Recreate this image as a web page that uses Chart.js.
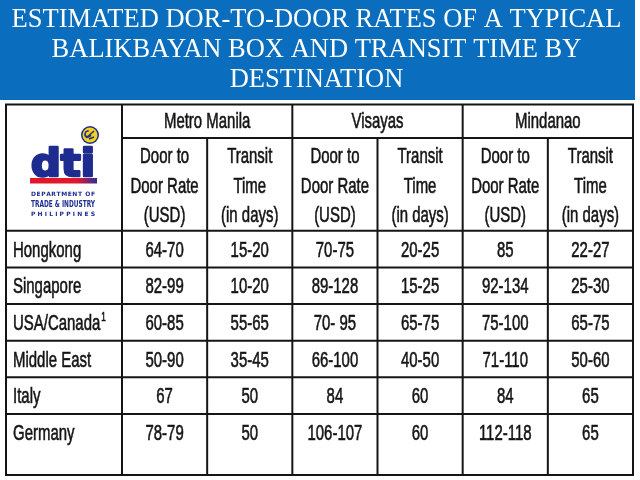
<!DOCTYPE html>
<html>
<head>
<meta charset="utf-8">
<title>Balikbayan box rates</title>
<script src="https://cdn.jsdelivr.net/npm/chart.js@4.4.1/dist/chart.umd.min.js"></script>
<style>
  html, body { margin: 0; padding: 0; background: #fff; }
  #wrap { width: 640px; height: 480px; }
</style>
</head>
<body>
<div id="wrap"><canvas id="rateTable"></canvas></div>
<script>
var titleLines = ['ESTIMATED DOR-TO-DOOR RATES OF A TYPICAL', 'BALIKBAYAN BOX AND TRANSIT TIME BY', 'DESTINATION'];
var regions = ['Metro Manila', 'Visayas', 'Mindanao'];
var columnHeads = [
  ['Door to', 'Door Rate', '(USD)'],
  ['Transit', 'Time', '(in days)'],
  ['Door to', 'Door Rate', '(USD)'],
  ['Transit', 'Time', '(in days)'],
  ['Door to', 'Door Rate', '(USD)'],
  ['Transit', 'Time', '(in days)']
];
var destinations = ['Hongkong', 'Singapore', 'USA/Canada', 'Middle East', 'Italy', 'Germany'];
var footnotes = ['', '', '1', '', '', ''];
var metroManilaRate = ['64-70', '82-99', '60-85', '50-90', '67', '78-79'];
var metroManilaDays = ['15-20', '10-20', '55-65', '35-45', '50', '50'];
var visayasRate = ['70-75', '89-128', '70- 95', '66-100', '84', '106-107'];
var visayasDays = ['20-25', '15-25', '65-75', '40-50', '60', '60'];
var mindanaoRate = ['85', '92-134', '75-100', '71-110', '84', '112-118'];
var mindanaoDays = ['22-27', '25-30', '65-75', '50-60', '65', '65'];
var tableColumns = [metroManilaRate, metroManilaDays, visayasRate, visayasDays, mindanaoRate, mindanaoDays];

// look of the table
var ink = '#151515';
var navy = '#1e2b8f';
var banner = '#0a6dbd';
var cellFont = '"Liberation Sans", Arial, sans-serif';
var cellSize = 22;
var squeeze = 0.68;
var tableTop = 104.5, groupBottom = 138, tableBottom = 475, tableLeft = 6;
var groupBaseline = 128;
var headBaselines = [163, 193, 222];

function squeezedText(ctx, text, x, y, size, align) {
  ctx.save();
  ctx.font = size + 'px ' + cellFont;
  ctx.textAlign = align;
  ctx.textBaseline = 'alphabetic';
  ctx.lineWidth = 0.6;
  ctx.strokeStyle = ctx.fillStyle;
  ctx.translate(x, y);
  ctx.scale(squeeze, 1);
  ctx.fillText(text, 0, 0);
  ctx.strokeText(text, 0, 0);
  var w = ctx.measureText(text).width * squeeze;
  ctx.restore();
  return w;
}

function line(ctx, x1, y1, x2, y2) {
  ctx.beginPath();
  ctx.moveTo(x1, y1);
  ctx.lineTo(x2, y2);
  ctx.stroke();
}

function spread(ctx, text, x0, x1, y) {
  var chars = text.split('');
  var widths = chars.map(function (ch) { return ctx.measureText(ch).width; });
  var total = widths.reduce(function (a, b) { return a + b; }, 0);
  var gap = (x1 - x0 - total) / (chars.length - 1);
  var x = x0;
  chars.forEach(function (ch, i) {
    ctx.fillText(ch, x, y);
    x += widths[i] + gap;
  });
}

function drawLogo(ctx) {
  ctx.save();
  // seal
  ctx.fillStyle = navy;
  ctx.beginPath(); ctx.arc(90, 135, 9, 0, Math.PI * 2); ctx.fill();
  ctx.fillStyle = '#f4d21c';
  ctx.beginPath(); ctx.arc(90, 135, 7.5, 0, Math.PI * 2); ctx.fill();
  ctx.strokeStyle = navy; ctx.lineWidth = 1.5;
  ctx.beginPath(); ctx.arc(88, 134, 3, 0.3, Math.PI * 1.6); ctx.stroke();
  line(ctx, 86, 138, 94, 131);
  line(ctx, 89, 139, 94, 137);

  // dti lettering, heavy
  ctx.fillStyle = navy;
  ctx.strokeStyle = navy;
  ctx.lineWidth = 2.5;
  ctx.lineJoin = 'round';
  ctx.font = 'bold 37px "DejaVu Sans", sans-serif';
  ctx.textBaseline = 'alphabetic';
  ctx.textAlign = 'left';
  var w = ctx.measureText('dti').width;
  ctx.save();
  ctx.translate(31, 176);
  ctx.scale(64 / w, 1);
  ctx.fillText('dti', 0, 0);
  ctx.strokeText('dti', 0, 0);
  ctx.restore();

  // red / blue bar
  var g = ctx.createLinearGradient(30, 0, 97, 0);
  g.addColorStop(0, '#e3172b');
  g.addColorStop(0.7, '#e3172b');
  g.addColorStop(1, '#2b2f9a');
  ctx.fillStyle = g;
  ctx.fillRect(30, 178, 67, 5.5);

  // agency name
  ctx.fillStyle = navy;
  ctx.font = 'bold 6px "DejaVu Sans", sans-serif';
  spread(ctx, 'DEPARTMENT OF', 31, 95, 195.5);
  spread(ctx, 'PHILIPPINES', 31, 95, 215.5);
  ctx.font = 'bold 9px "DejaVu Sans Condensed", "DejaVu Sans", sans-serif';
  var tw = ctx.measureText('TRADE & INDUSTRY').width;
  ctx.save();
  ctx.translate(31, 207);
  ctx.scale(64 / tw, 1);
  ctx.fillText('TRADE & INDUSTRY', 0, 0);
  ctx.restore();
  ctx.restore();
}

var tablePlugin = {
  id: 'tablePlugin',
  beforeDraw: function (chart) {
    var ctx = chart.ctx;
    ctx.save();
    ctx.fillStyle = '#fff';
    ctx.fillRect(0, 0, chart.width, chart.height);
    ctx.fillStyle = banner;
    ctx.fillRect(0, 0, 635, 100);
    ctx.restore();
  },
  afterDraw: function (chart) {
    var ctx = chart.ctx;
    var xs = chart.scales.x;
    var ys = chart.scales.y;
    var area = chart.chartArea;
    var nCols = tableColumns.length;
    var nRows = destinations.length;
    var r, c;

    ctx.save();
    ctx.strokeStyle = ink;
    ctx.lineWidth = 2;
    ctx.strokeRect(tableLeft, tableTop, area.right - tableLeft, tableBottom - tableTop);
    line(ctx, area.left, groupBottom, area.right, groupBottom);
    line(ctx, tableLeft, area.top, area.right, area.top);
    for (r = 1; r < nRows; r++) {
      var ry = ys.getPixelForValue(r - 0.5);
      line(ctx, tableLeft, ry, area.right, ry);
    }
    for (c = 0; c < nCols; c++) {
      var cx = xs.getPixelForValue(c - 0.5);
      line(ctx, cx, c % 2 === 0 ? tableTop : groupBottom, cx, tableBottom);
    }

    ctx.fillStyle = ink;
    regions.forEach(function (name, g) {
      squeezedText(ctx, name, xs.getPixelForValue(2 * g + 0.5), groupBaseline, cellSize, 'center');
    });
    columnHeads.forEach(function (lines, k) {
      var hx = xs.getPixelForValue(k);
      lines.forEach(function (t, j) {
        squeezedText(ctx, t, hx, headBaselines[j], cellSize, 'center');
      });
    });

    destinations.forEach(function (name, i) {
      var base = ys.getPixelForValue(i) + 7.5;
      var w = squeezedText(ctx, name, 13, base, cellSize, 'left');
      if (footnotes[i]) {
        squeezedText(ctx, footnotes[i], 13 + w + 1, base - 9, 12, 'left');
      }
      tableColumns.forEach(function (col, k) {
        squeezedText(ctx, col[i], xs.getPixelForValue(k), base, cellSize, 'center');
      });
    });
    ctx.restore();

    drawLogo(ctx);
  }
};

var chart = new Chart('rateTable', {
  type: 'bar',
  data: {
    labels: columnHeads.map(function (h) { return h.join(' '); }),
    datasets: []
  },
  options: {
    responsive: true,
    maintainAspectRatio: false,
    animation: false,
    events: [],
    layout: { padding: { left: 0, right: 7, top: 0, bottom: 29.4 } },
    plugins: {
      legend: { display: false },
      tooltip: { enabled: false },
      title: {
        display: true,
        text: titleLines,
        color: '#ffffff',
        font: { family: '"Liberation Serif", serif', size: 26.5, weight: 'normal', lineHeight: 1.13 },
        padding: { top: 5, bottom: 136 }
      }
    },
    scales: {
      x: { type: 'category', display: false, offset: true },
      y: {
        type: 'category',
        labels: destinations,
        offset: true,
        display: true,
        ticks: { display: false },
        grid: { display: false },
        border: { display: false },
        afterFit: function (scale) { scale.width = 122; }
      }
    }
  },
  plugins: [tablePlugin]
});
</script>
</body>
</html>
